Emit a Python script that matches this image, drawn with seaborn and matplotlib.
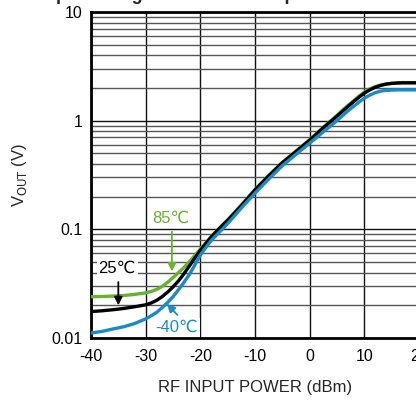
import numpy as np
import pandas as pd
import matplotlib
matplotlib.use("Agg")
import matplotlib.pyplot as plt
import seaborn as sns
from matplotlib.ticker import FixedLocator, NullFormatter, LogLocator, FixedFormatter

# ---------------- data ----------------
power_dbm = [-40, -38, -36, -34, -32, -30, -29, -28, -27, -26, -25, -24, -23, -22, -21,
             -20, -19, -18, -17, -16, -15, -12.5, -10, -7.5, -5, -2.5, 0, 2.5,
             5, 6, 7, 8, 9, 10, 11, 12, 13, 14, 15, 16, 17, 18, 20]
vout_85c = [0.0240, 0.0241, 0.0243, 0.0246, 0.0252, 0.0260, 0.0268, 0.0280, 0.0298, 0.0325,
            0.0360, 0.0400, 0.0445, 0.0505, 0.0575, 0.066, 0.075, 0.086, 0.097, 0.109,
            0.122, 0.168, 0.233, 0.313, 0.413, 0.525, 0.67, 0.87,
            1.12, 1.25, 1.38, 1.52, 1.68, 1.83, 1.96, 2.06, 2.13, 2.18, 2.21, 2.23,
            2.24, 2.24, 2.24]
vout_25c = [0.0175, 0.0178, 0.0182, 0.0187, 0.0194, 0.0202, 0.0210, 0.0222, 0.0240, 0.0264,
            0.0295, 0.0335, 0.0390, 0.0460, 0.0545, 0.064, 0.074, 0.085, 0.096, 0.108,
            0.121, 0.165, 0.230, 0.310, 0.410, 0.520, 0.66, 0.86,
            1.10, 1.22, 1.35, 1.49, 1.64, 1.79, 1.92, 2.03, 2.11, 2.17, 2.20, 2.22,
            2.23, 2.23, 2.23]
vout_m40c = [0.0111, 0.0115, 0.0121, 0.0127, 0.0136, 0.0150, 0.0160, 0.0172, 0.0190, 0.0212,
             0.0240, 0.0278, 0.0325, 0.0385, 0.0470, 0.058, 0.068, 0.079, 0.089, 0.100,
             0.113, 0.157, 0.215, 0.290, 0.385, 0.490, 0.62, 0.79,
             1.00, 1.11, 1.23, 1.35, 1.48, 1.61, 1.72, 1.81, 1.87, 1.90, 1.91, 1.92,
             1.92, 1.92, 1.92]
series_labels = ["85℃", "25℃", "-40℃"]
series_colors = ["#66b32e", "#000000", "#1a8ac9"]
x_ticks = [-40, -30, -20, -10, 0, 10, 20]
y_ticks = [0.01, 0.1, 1, 10]
y_tick_labels = ["0.01", "0.1", "1", "10"]

df = pd.concat([
    pd.DataFrame({"power": power_dbm, "vout": v, "temp": lab})
    for v, lab in zip([vout_85c, vout_25c, vout_m40c], series_labels)
])

# ---------------- style ----------------
sns.set_style("white")
plt.rcParams["font.family"] = ["Liberation Sans", "DejaVu Sans"]
plt.rcParams["axes.unicode_minus"] = False

fig = plt.figure(figsize=(4.16, 4.0), dpi=100)
ax = fig.add_axes([91 / 416, 62 / 400, 328 / 416, 326 / 400])

sns.lineplot(data=df, x="power", y="vout", hue="temp", hue_order=series_labels,
             palette=dict(zip(series_labels, series_colors)), linewidth=2.4,
             legend=False, ax=ax, zorder=3)

ax.set_yscale("log")
ax.set_xlim(-40, 20)
ax.set_ylim(0.01, 10)

ax.xaxis.set_major_locator(FixedLocator(x_ticks))
ax.set_xticklabels([str(t) for t in x_ticks])
ax.yaxis.set_major_locator(FixedLocator(y_ticks))
ax.yaxis.set_major_formatter(FixedFormatter(y_tick_labels))
ax.yaxis.set_minor_locator(LogLocator(base=10, subs=np.arange(2, 10)))
ax.yaxis.set_minor_formatter(NullFormatter())

ax.tick_params(axis="both", which="both", length=0, labelsize=11.5, colors="black")
ax.tick_params(axis="x", pad=8)
ax.tick_params(axis="y", pad=6)

ax.grid(True, which="major", axis="both", color="#111111", linewidth=1.0, zorder=1)
ax.grid(True, which="minor", axis="y", color="#555555", linewidth=1.0, zorder=1)

for side in ["left", "bottom", "top"]:
    ax.spines[side].set_color("black")
    ax.spines[side].set_linewidth(2.0)
ax.spines["right"].set_visible(False)

ax.set_xlabel("RF INPUT POWER (dBm)", fontsize=12)
ax.set_ylabel("V$_{\\mathrm{OUT}}$ (V)", fontsize=12)
ax.xaxis.set_label_coords(0.5, -0.13)
ax.yaxis.set_label_coords(-0.19, 0.5)

# annotations
box = dict(facecolor="white", edgecolor="none", pad=1.5)
ax.text(-25.4, 0.127, series_labels[0], color=series_colors[0], fontsize=12,
        ha="center", va="center", bbox=box, zorder=4)
ax.annotate("", xy=(-25.2, 0.041), xytext=(-25.2, 0.095),
            arrowprops=dict(arrowstyle="-|>", color=series_colors[0], lw=1.3,
                            mutation_scale=12, shrinkA=0, shrinkB=0), zorder=4)
ax.text(-35.2, 0.044, series_labels[1], color=series_colors[1], fontsize=12,
        ha="center", va="center", bbox=box, zorder=4)
ax.annotate("", xy=(-35.0, 0.0200), xytext=(-35.0, 0.0327),
            arrowprops=dict(arrowstyle="-|>", color=series_colors[1], lw=1.3,
                            mutation_scale=12, shrinkA=0, shrinkB=0), zorder=4)
ax.text(-24.4, 0.0126, series_labels[2], color=series_colors[2], fontsize=12,
        ha="center", va="center", bbox=box, zorder=4)
ax.annotate("", xy=(-26.1, 0.0206), xytext=(-24.2, 0.0163),
            arrowprops=dict(arrowstyle="-|>", color=series_colors[2], lw=1.3,
                            mutation_scale=12, shrinkA=0, shrinkB=0), zorder=4)

# title, mostly cut off at the top edge as in the reference
fig.text(25 / 416, 1.0 + 0.5 / 400, "Output Voltage at Various Temperatures",
         fontsize=13, fontweight="bold", ha="left", va="baseline")

fig.savefig("out.png", dpi=100)
